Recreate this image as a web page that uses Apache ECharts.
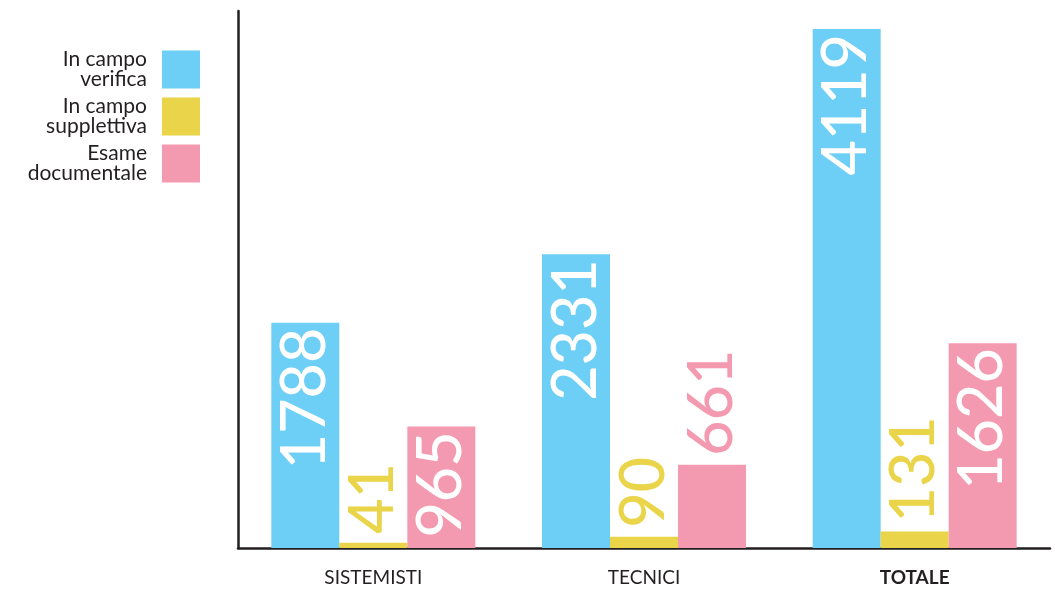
<!DOCTYPE html>
<html>
<head>
<meta charset="utf-8">
<script src="https://cdn.jsdelivr.net/npm/echarts@6/dist/echarts.min.js"></script>
<style>
  html, body { margin: 0; padding: 0; background: #ffffff; }
  #chart { width: 1055px; height: 590px; }
</style>
</head>
<body>
<div id="chart"></div>
<script>
// Categories and values
const categories = ['SISTEMISTI', 'TECNICI', 'TOTALE'];
const seriesNames = ['In campo\nverifica', 'In campo\nsupplettiva', 'Esame\ndocumentale'];
const verifica = [1788, 2331, 4119];
const supplettiva = [41, 90, 131];
const documentale = [965, 661, 1626];

const colors = ['#6dcff6', '#e9d44a', '#f49ab0'];
const ink = '#231f20';
const font = 'Lato';

// Values tall enough to hold their number inside the bar
const insideThreshold = 800;

function buildData(values, color) {
  return values.map(v => {
    const inside = v > insideThreshold;
    return {
      value: v,
      label: inside ? {
        position: 'insideTop', rotate: 90, align: 'right', verticalAlign: 'middle',
        distance: 5, color: '#ffffff'
      } : {
        position: 'top', rotate: 90, align: 'left', verticalAlign: 'middle',
        distance: 9, color: color
      }
    };
  });
}

const seriesValues = [verifica, supplettiva, documentale];

const chart = echarts.init(document.getElementById('chart'), null, { renderer: 'canvas' });
chart.setOption({
  animation: false,
  backgroundColor: '#ffffff',
  legend: {
    orient: 'vertical',
    right: 850,
    top: 44,
    align: 'right',
    itemWidth: 38,
    itemHeight: 38,
    itemGap: 6,
    icon: 'rect',
    textStyle: { fontFamily: font, fontSize: 21, lineHeight: 20, color: ink, padding: [0, 10, 0, 0] },
    data: seriesNames
  },
  grid: { left: 238, right: 5, top: 11, bottom: 42, containLabel: false },
  xAxis: {
    type: 'category',
    data: categories,
    axisLine: { show: true, lineStyle: { color: ink, width: 2.5 } },
    axisTick: { show: false },
    axisLabel: {
      margin: 20,
      fontFamily: font, fontSize: 19, color: ink,
      formatter: v => v === 'TOTALE' ? '{b|' + v + '}' : v,
      rich: { b: { fontFamily: font, fontSize: 19, fontWeight: 'bold', color: ink } }
    }
  },
  yAxis: {
    type: 'value',
    min: 0,
    max: 4262,
    axisLine: { show: true, lineStyle: { color: ink, width: 2.5 } },
    axisTick: { show: false },
    axisLabel: { show: false },
    splitLine: { show: false }
  },
  series: seriesNames.map((name, i) => ({
    name: name,
    type: 'bar',
    barWidth: 68,
    barGap: '0%',
    itemStyle: { color: colors[i] },
    label: { show: true, fontFamily: font, fontSize: 61, fontWeight: 500 },
    data: buildData(seriesValues[i], colors[i])
  }))
});
</script>
</body>
</html>
